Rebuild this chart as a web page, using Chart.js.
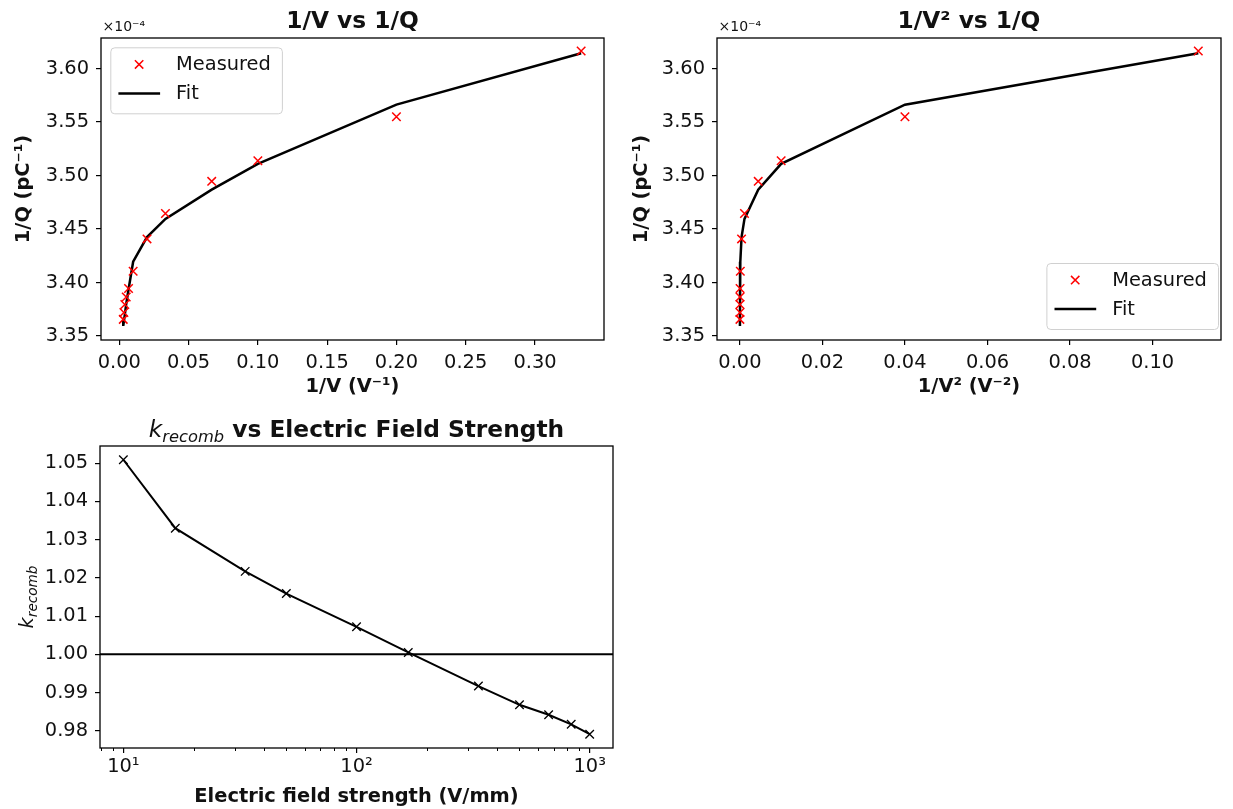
<!DOCTYPE html>
<html>
<head>
<meta charset="utf-8">
<script src="https://cdn.jsdelivr.net/npm/chart.js@4/dist/chart.umd.min.js"></script>
<style>
  html, body { margin: 0; padding: 0; background: #fff; }
  #wrap { position: relative; width: 1233px; height: 809px; overflow: hidden; }
  canvas { position: absolute; }
</style>
</head>
<body>
<div id="wrap">
  <canvas id="invVChart" width="616" height="405" style="left:0;top:0"></canvas>
  <canvas id="invV2Chart" width="617" height="405" style="left:616px;top:0"></canvas>
  <canvas id="kChart" width="630" height="404" style="left:0;top:405px"></canvas>
</div>
<script>
// ===== DATOS =====
// 1/V (V^-1) y 1/V^2 (V^-2) de cada medida
const invV = [0.3333, 0.2, 0.1, 0.0667, 0.0333, 0.02, 0.01, 0.00667, 0.005, 0.004, 0.00333, 0.00286];
const invV2 = [0.1111, 0.04, 0.01, 0.00444, 0.00111, 0.0004, 0.0001, 0.0000444, 0.000025, 0.000016, 0.0000111, 0.0000082];
// 1/Q en unidades de 1e-4 pC^-1
const invQMeasured = [3.6165, 3.5550, 3.5139, 3.4946, 3.4645, 3.4408, 3.4106, 3.3945, 3.3865, 3.3795, 3.3720, 3.3656];
const invQFit = [3.6143, 3.5663, 3.5110, 3.4868, 3.4595, 3.4425, 3.4195, 3.3935, 3.3800, 3.3700, 3.3640, 3.3595];

const invVTicks = [0, 0.05, 0.10, 0.15, 0.20, 0.25, 0.30];
const invV2Ticks = [0, 0.02, 0.04, 0.06, 0.08, 0.10];
const invQTicks = [3.35, 3.40, 3.45, 3.50, 3.55, 3.60];

// campo eléctrico (V/mm) y k_recomb
const fieldStrength = [10, 16.7, 33.3, 50, 100, 166.7, 333.3, 500, 666.7, 833.3, 1000];
const kRecomb = [1.0509, 1.0330, 1.0217, 1.0159, 1.0072, 1.0005, 0.9917, 0.9868, 0.9842, 0.9817, 0.9791];
const kTicks = [0.98, 0.99, 1.00, 1.01, 1.02, 1.03, 1.04, 1.05];
const fieldTicks = [10, 100, 1000];
const fieldTickLabels = ['10¹', '10²', '10³'];
const fieldMinorTicks = [8, 9, 20, 30, 40, 50, 60, 70, 80, 90, 200, 300, 400, 500, 600, 700, 800, 900];

// límites de ejes (como los deja matplotlib)
const invQRange = [3.3463, 3.6286];
const invVRange = [-0.0132, 0.3498];
const invV2Range = [-0.00555, 0.1166];
const kRange = [0.9755, 1.0545];
const fieldRange = [7.94, 1259];

// ===== ESTILO =====
const FAMILY = '"DejaVu Sans", sans-serif';
const TXT = '#111';
const BASE = 19.4;
const BIG = 23.3;
Chart.defaults.font.family = FAMILY;
Chart.defaults.color = TXT;

function drawRuns(ctx, runs, x, y) {
    let total = 0;
    runs.forEach(r => { ctx.font = r.font; r.w = ctx.measureText(r.text).width; total += r.w; });
    let cx = x - total / 2;
    runs.forEach(r => {
        ctx.font = r.font;
        ctx.fillText(r.text, cx, y + (r.dy || 0));
        cx += r.w;
    });
}

function drawCross(ctx, x, y, h) {
    ctx.beginPath();
    ctx.moveTo(x - h, y - h); ctx.lineTo(x + h, y + h);
    ctx.moveTo(x - h, y + h); ctx.lineTo(x + h, y - h);
    ctx.stroke();
}

// marco, títulos, leyenda y ticks menores
const decor = {
    id: 'decor',
    afterDraw(chart, args, o) {
        const ctx = chart.ctx;
        const a = chart.chartArea;
        ctx.save();
        ctx.fillStyle = TXT;
        ctx.textAlign = 'left';
        ctx.textBaseline = 'alphabetic';

        if (o.title) drawRuns(ctx, o.title, (a.left + a.right) / 2, o.titleY);

        if (o.offsetText) {
            ctx.font = '14px ' + FAMILY;
            ctx.textAlign = 'left';
            ctx.fillText(o.offsetText, a.left + 1.5, 31);
        }

        if (o.yTitle) {
            ctx.save();
            ctx.translate(o.yTitleX, (a.top + a.bottom) / 2);
            ctx.rotate(-Math.PI / 2);
            drawRuns(ctx, o.yTitle, 0, 7);
            ctx.restore();
        }

        if (o.minorTicks) {
            const sx = chart.scales.x;
            ctx.strokeStyle = '#000';
            ctx.lineWidth = 1;
            o.minorTicks.forEach(v => {
                const px = Math.round(sx.getPixelForValue(v)) + 0.5;
                ctx.beginPath();
                ctx.moveTo(px, a.bottom);
                ctx.lineTo(px, a.bottom + 3);
                ctx.stroke();
            });
        }

        // marco completo
        ctx.strokeStyle = '#000';
        ctx.lineWidth = 1.3;
        ctx.strokeRect(a.left, a.top, a.right - a.left, a.bottom - a.top);

        if (o.legend) {
            const L = o.legend;
            const w = 171.6, h = 66;
            const bx = L.right ? a.right - L.padX - w : a.left + L.padX;
            const by = L.bottom ? a.bottom - L.padY - h : a.top + L.padY;
            ctx.beginPath();
            ctx.roundRect(bx, by, w, h, 4);
            ctx.fillStyle = 'rgba(255,255,255,0.8)';
            ctx.fill();
            ctx.strokeStyle = '#d0d0d0';
            ctx.lineWidth = 1;
            ctx.stroke();

            const ds = chart.data.datasets;
            ctx.strokeStyle = 'red';
            ctx.lineWidth = 1.5;
            drawCross(ctx, bx + 28.3, by + 16.6, 4.2);
            ctx.strokeStyle = '#000';
            ctx.lineWidth = 2.5;
            ctx.beginPath();
            ctx.moveTo(bx + 7.6, by + 45.6);
            ctx.lineTo(bx + 49.3, by + 45.6);
            ctx.stroke();

            ctx.fillStyle = TXT;
            ctx.font = BASE + 'px ' + FAMILY;
            ctx.textBaseline = 'middle';
            ctx.textAlign = 'left';
            ctx.fillText(ds[0].label, bx + 65.3, by + 17);
            ctx.fillText(ds[1].label, bx + 65.3, by + 46);
        }
        ctx.restore();
    }
};

function tickAxis(extra) {
    return Object.assign({
        grid: { drawOnChartArea: false, drawTicks: true, tickLength: 5, color: '#000', lineWidth: 1.2 },
        border: { display: false }
    }, extra);
}

function invQChart(id, xs, xTicks, xRange, xTitle, decorOpts, yTitlePad) {
    return new Chart(document.getElementById(id), {
        type: 'scatter',
        data: {
            datasets: [{
                label: 'Measured',
                data: xs.map((x, i) => ({ x: x, y: invQMeasured[i] })),
                pointStyle: 'crossRot',
                pointRadius: 6,
                pointBorderColor: 'red',
                pointBackgroundColor: 'red',
                pointBorderWidth: 1.5,
                showLine: false,
                order: 0
            }, {
                label: 'Fit',
                data: xs.map((x, i) => ({ x: x, y: invQFit[i] })),
                showLine: true,
                borderColor: '#000',
                borderWidth: 2.5,
                pointRadius: 0,
                order: 1
            }]
        },
        options: {
            responsive: false,
            animation: false,
            devicePixelRatio: 1,
            layout: { padding: { left: 0, top: 38, right: 12, bottom: 0 } },
            plugins: { legend: { display: false }, tooltip: { enabled: false }, decor: decorOpts },
            scales: {
                x: tickAxis({
                    type: 'linear', min: xRange[0], max: xRange[1],
                    afterBuildTicks: s => { s.ticks = xTicks.map(v => ({ value: v })); },
                    afterFit: s => { s.height = 65; },
                    ticks: { callback: v => v.toFixed(2), font: { size: BASE }, padding: 6, maxRotation: 0, autoSkip: false },
                    title: { display: true, text: xTitle, font: { size: BASE, weight: 'bold' }, padding: { bottom: 6 } }
                }),
                y: tickAxis({
                    type: 'linear', min: invQRange[0], max: invQRange[1],
                    afterBuildTicks: s => { s.ticks = invQTicks.map(v => ({ value: v })); },
                    afterFit: s => { s.width = 101; },
                    ticks: { callback: v => v.toFixed(2), font: { size: BASE }, padding: 7, autoSkip: false },
                    title: { display: true, text: '1/Q (pC⁻¹)', font: { size: BASE, weight: 'bold' }, padding: { top: yTitlePad } }
                })
            }
        },
        plugins: [decor]
    });
}

invQChart('invVChart', invV, invVTicks, invVRange, '1/V (V⁻¹)', {
    title: [{ text: '1/V vs 1/Q', font: 'bold ' + BIG + 'px ' + FAMILY }],
    titleY: 28,
    offsetText: '×10⁻⁴',
    legend: { right: false, bottom: false, padX: 9.8, padY: 9.8 }
}, 12);

invQChart('invV2Chart', invV2, invV2Ticks, invV2Range, '1/V² (V⁻²)', {
    title: [{ text: '1/V² vs 1/Q', font: 'bold ' + BIG + 'px ' + FAMILY }],
    titleY: 28,
    offsetText: '×10⁻⁴',
    legend: { right: true, bottom: true, padX: 2.5, padY: 10.5 }
}, 14);

new Chart(document.getElementById('kChart'), {
    type: 'scatter',
    data: {
        datasets: [{
            label: 'k_recomb',
            data: fieldStrength.map((x, i) => ({ x: x, y: kRecomb[i] })),
            showLine: true,
            borderColor: '#000',
            borderWidth: 2,
            pointStyle: 'crossRot',
            pointRadius: 6,
            pointBorderColor: '#000',
            pointBorderWidth: 1.3,
            order: 0
        }, {
            label: 'k = 1',
            data: [{ x: fieldRange[0], y: 1 }, { x: fieldRange[1], y: 1 }],
            showLine: true,
            borderColor: '#000',
            borderWidth: 2,
            pointRadius: 0,
            order: 1
        }]
    },
    options: {
        responsive: false,
        animation: false,
        devicePixelRatio: 1,
        layout: { padding: { left: 0, top: 41, right: 17, bottom: 0 } },
        plugins: {
            legend: { display: false },
            tooltip: { enabled: false },
            decor: {
                title: [
                    { text: 'k', font: 'italic ' + BIG + 'px ' + FAMILY },
                    { text: 'recomb', font: 'italic ' + (BIG * 0.7).toFixed(1) + 'px ' + FAMILY, dy: 5 },
                    { text: ' vs Electric Field Strength', font: 'bold ' + BIG + 'px ' + FAMILY }
                ],
                titleY: 32,
                yTitleX: 26,
                yTitle: [
                    { text: 'k', font: 'italic ' + BASE + 'px ' + FAMILY },
                    { text: 'recomb', font: 'italic ' + (BASE * 0.7).toFixed(1) + 'px ' + FAMILY, dy: 4 }
                ],
                minorTicks: fieldMinorTicks
            }
        },
        scales: {
            x: tickAxis({
                type: 'logarithmic', min: fieldRange[0], max: fieldRange[1],
                afterBuildTicks: s => { s.ticks = fieldTicks.map(v => ({ value: v })); },
                afterFit: s => { s.height = 61; },
                ticks: { callback: (v, i) => fieldTickLabels[i], font: { size: BASE }, padding: 2, maxRotation: 0, autoSkip: false },
                title: { display: true, text: 'Electric field strength (V/mm)', font: { size: BASE, weight: 'bold' }, padding: { bottom: 0 } }
            }),
            y: tickAxis({
                type: 'linear', min: kRange[0], max: kRange[1],
                afterBuildTicks: s => { s.ticks = kTicks.map(v => ({ value: v })); },
                afterFit: s => { s.width = 100; },
                ticks: { callback: v => v.toFixed(2), font: { size: BASE }, padding: 7, autoSkip: false },
                title: { display: false }
            })
        }
    },
    plugins: [decor]
});
</script>
</body>
</html>
